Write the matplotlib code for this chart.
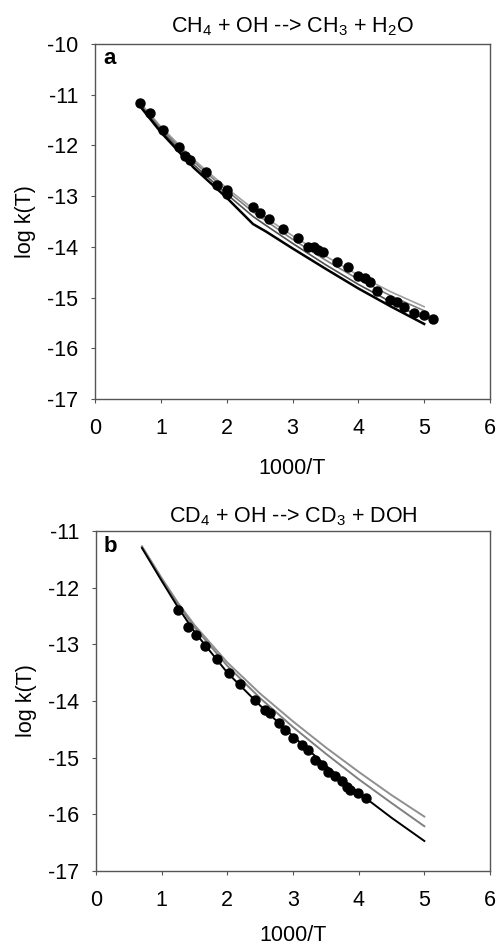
import matplotlib.pyplot as plt

plt.rcParams['font.family'] = ['Liberation Sans', 'DejaVu Sans']
plt.rcParams['mathtext.fontset'] = 'custom'
plt.rcParams['mathtext.rm'] = 'Liberation Sans'
plt.rcParams['axes.unicode_minus'] = False

# panel a: CH4 + OH
xa_pts = [0.68, 0.84, 1.03, 1.27, 1.37, 1.44, 1.69, 1.85, 2.01, 2.01, 2.40, 2.51, 2.64,
          2.86, 3.09, 3.24, 3.32, 3.39, 3.46, 3.67, 3.85, 4.00, 4.10, 4.18, 4.29, 4.48,
          4.58, 4.69, 4.85, 5.00, 5.13]
ya_pts = [-11.16, -11.37, -11.70, -12.03, -12.21, -12.29, -12.52, -12.78, -12.87, -12.95,
          -13.21, -13.33, -13.45, -13.65, -13.83, -14.00, -14.00, -14.06, -14.10, -14.29,
          -14.40, -14.58, -14.62, -14.69, -14.88, -15.05, -15.08, -15.18, -15.30, -15.35,
          -15.43]

xa_line = [0.68, 1.0, 1.5, 2.0, 2.4, 2.6, 3.0, 3.5, 4.0, 4.5, 5.0]
ya_black = [-11.22, -11.74, -12.44, -13.03, -13.55, -13.70, -14.03, -14.43, -14.82, -15.18, -15.52]
ya_dark = [-11.20, -11.70, -12.38, -12.96, -13.40, -13.58, -13.93, -14.35, -14.74, -15.09, -15.42]
ya_gray1 = [-11.15, -11.63, -12.28, -12.84, -13.25, -13.43, -13.78, -14.18, -14.56, -14.89, -15.18]
ya_gray2 = [-11.17, -11.66, -12.32, -12.89, -13.31, -13.49, -13.85, -14.26, -14.64, -14.97, -15.26]

# panel b: CD4 + OH
xb_pts = [1.25, 1.40, 1.53, 1.66, 1.84, 2.03, 2.20, 2.42, 2.57, 2.65, 2.78, 2.88, 3.00,
          3.13, 3.23, 3.33, 3.44, 3.54, 3.64, 3.74, 3.82, 3.87, 3.99, 4.11]
yb_pts = [-12.39, -12.69, -12.83, -13.03, -13.26, -13.51, -13.70, -13.99, -14.16, -14.22,
          -14.39, -14.51, -14.65, -14.77, -14.86, -15.04, -15.13, -15.25, -15.33, -15.42,
          -15.51, -15.57, -15.63, -15.71]

xb_line = [0.7, 1.0, 1.25, 1.5, 2.0, 2.5, 3.0, 3.5, 4.0, 4.5, 5.0]
yb_black = [-11.30, -11.88, -12.35, -12.78, -13.50, -14.08, -14.62, -15.14, -15.62, -16.06, -16.47]
yb_gray1 = [-11.27, -11.83, -12.27, -12.66, -13.32, -13.87, -14.36, -14.82, -15.25, -15.66, -16.04]
yb_gray2 = [-11.28, -11.85, -12.30, -12.70, -13.38, -13.95, -14.46, -14.93, -15.38, -15.80, -16.21]

fig = plt.figure(figsize=(4.99, 9.47), dpi=100)
ax1 = fig.add_axes([95 / 499, 1 - 399 / 947, 395 / 499, 355 / 947])
ax2 = fig.add_axes([96 / 499, 1 - 871 / 947, 394 / 499, 340 / 947])


def style(ax, ylim, yticks, title, letter, ltop, tpad, xlab_y):
    ax.set_xlim(0, 6)
    ax.set_ylim(*ylim)
    ax.set_xticks(range(0, 7))
    ax.set_yticks(yticks)
    ax.tick_params(direction='out', length=3, width=0.8, color='#555555',
                   labelsize=15.5, top=False, right=False)
    ax.tick_params(axis='x', pad=11)
    ax.tick_params(axis='y', pad=9)
    for s in ax.spines.values():
        s.set_color('#555555')
        s.set_linewidth(1.0)
    ax.set_xlabel('1000/T', fontsize=15.5)
    ax.set_ylabel('log k(T)', fontsize=15.5)
    ax.xaxis.set_label_coords(0.5, xlab_y)
    ax.yaxis.set_label_coords(-0.15, 0.5)
    ax.set_title(title, fontsize=15.5, pad=tpad)
    ax.text(0.02, ltop, letter, transform=ax.transAxes, fontsize=16,
            fontweight='bold', va='top', ha='left')


ax1.plot(xa_line, ya_gray1, color='#a0a0a0', lw=1.2)
ax1.plot(xa_line, ya_gray2, color='#808080', lw=1.2)
ax1.plot(xa_line, ya_dark, color='#505050', lw=1.2)
ax1.plot(xa_line, ya_black, color='black', lw=1.8)
ax1.plot(xa_pts, ya_pts, 'o', color='black', ms=6.5)
style(ax1, (-17, -10), range(-17, -9), 'CH$_4$ + OH --> CH$_3$ + H$_2$O', 'a',
      0.99, 8, -0.165)

ax2.plot(xb_line, yb_gray1, color='#909090', lw=1.4)
ax2.plot(xb_line, yb_gray2, color='#808080', lw=1.4)
ax2.plot(xb_line, yb_black, color='black', lw=1.4)
ax2.plot(xb_pts, yb_pts, 'o', color='black', ms=6.5)
style(ax2, (-17, -11), range(-17, -10), 'CD$_4$ + OH --> CD$_3$ + DOH', 'b',
      0.985, 6, -0.16)

plt.savefig('out.png', dpi=100)
